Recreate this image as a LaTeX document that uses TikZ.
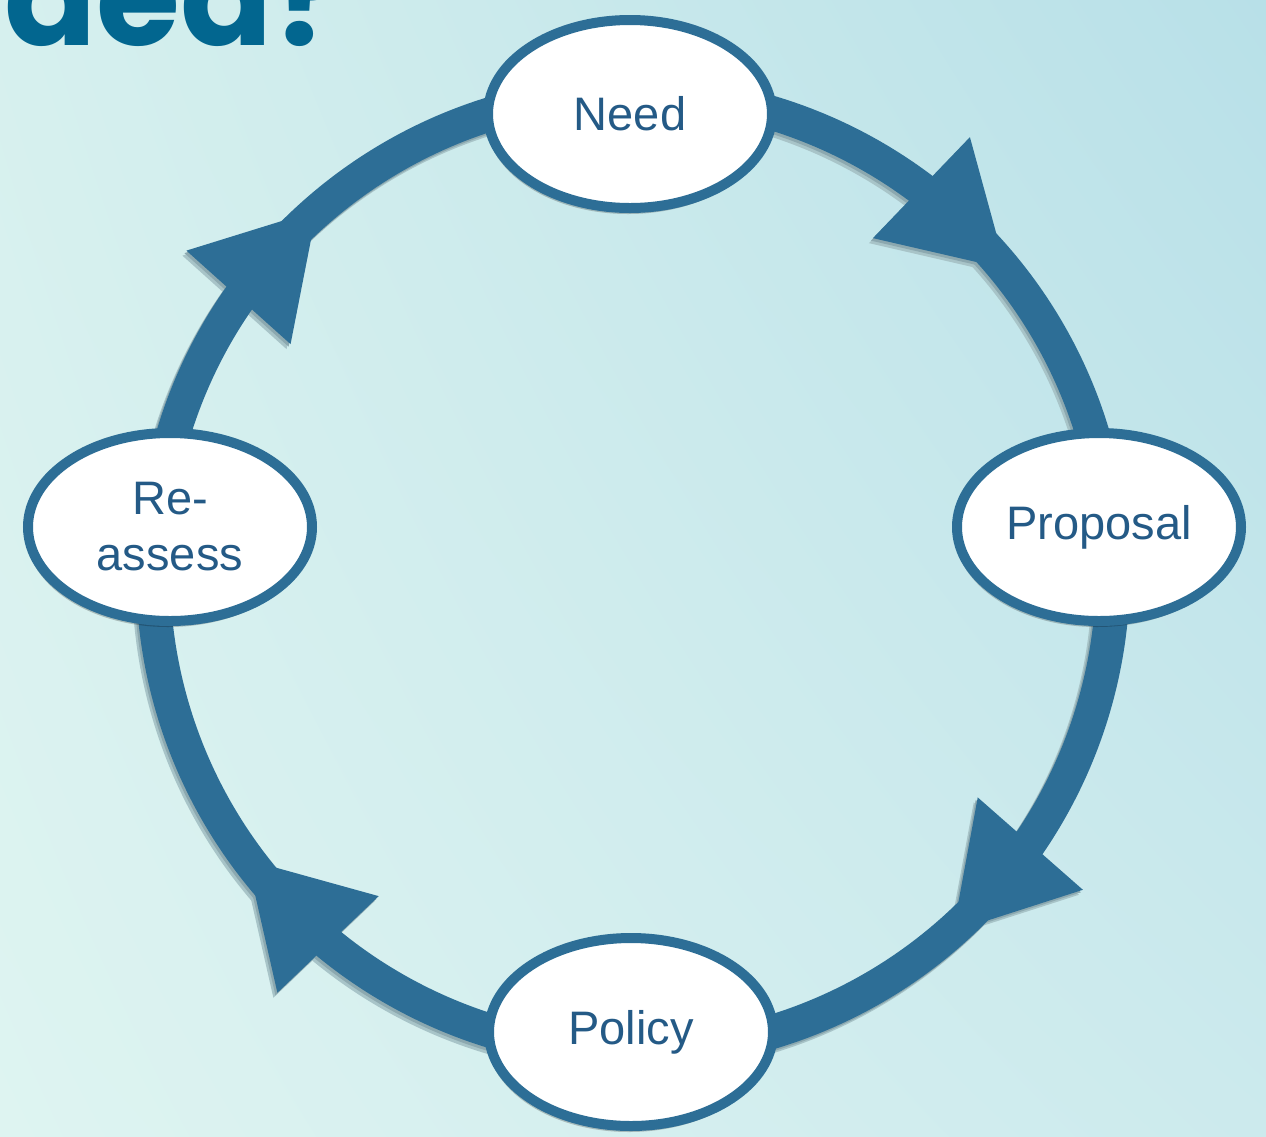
\documentclass[tikz,border=0pt]{standalone}
\usepackage{fontspec}
\setmainfont{Liberation Sans}
\newfontfamily\titlefont{Poppins}
\usetikzlibrary{shapes.geometric,shadows,shadings,decorations.markings}
\definecolor{ringc}{RGB}{45,110,150}
\definecolor{textc}{RGB}{36,90,134}
\definecolor{titlec}{RGB}{2,102,143}
\definecolor{bgul}{RGB}{214,240,238}
\definecolor{bgur}{RGB}{184,224,232}
\definecolor{bgll}{RGB}{222,244,241}
\definecolor{bglr}{RGB}{204,234,237}
\definecolor{shadowc}{RGB}{168,196,200}
\definecolor{shadowd}{RGB}{140,168,175}
\begin{document}
\begin{tikzpicture}[x=0.5pt,y=0.5pt,
  stage/.style={ellipse, draw=ringc, line width=5pt, fill=white,
    minimum width=142pt, minimum height=94pt, inner sep=0pt,
    text=textc, font=\fontsize{23.5}{28}\selectfont, align=center,
    drop shadow={shadow xshift=-1pt, shadow yshift=-3pt, opacity=0.22, fill=black}},
  ring/.style={draw=ringc, line width=17pt},
  arrowat/.style={postaction={decorate}, decoration={markings,
    mark=at position #1 with {\fill[ringc] (58.6,-2.6) -- (-58.6,67.4) -- (-58.6,-72.6) -- cycle;}}}
  ]
\useasboundingbox (0,0) rectangle (1266,-1137);
\clip (0,0) rectangle (1266,-1137);
\shade[upper left=bgul, upper right=bgur, lower left=bgll, lower right=bglr] (0,0) rectangle (1266,-1137);

% cut-off title
\node[anchor=base west, inner sep=0pt, text=titlec,
  font=\titlefont\bfseries\fontsize{68}{68}\selectfont] (title) at (4,-45) {ded?};

% ring points
\coordinate (c) at (633,-572.5);
\coordinate (rN) at (633,-92.5);
\coordinate (rP) at (1110.7,-525.7);
\coordinate (rS) at (633,-1052.5);
\coordinate (rR) at (155.3,-525.7);

% soft shadow of ring and arrows
\begin{scope}[shift={(-4,-5)}]
  \colorlet{ringc}{shadowc}
  \draw[ring, arrowat=0.5195] (633,-92.5) arc[start angle=90, end angle=5.6, radius=480];
  \draw[ring, arrowat=0.4906] (1110.7,-525.7) arc[start angle=5.6, end angle=-90, radius=480];
  \draw[ring, arrowat=0.4848] (633,-1052.5) arc[start angle=-90, end angle=-185.6, radius=480];
  \draw[ring, arrowat=0.430] (155.3,-525.7) arc[start angle=174.4, end angle=90, radius=480];
\end{scope}
\begin{scope}[shift={(-2,-2.5)}]
  \colorlet{ringc}{shadowd}
  \draw[ring, arrowat=0.5195] (633,-92.5) arc[start angle=90, end angle=5.6, radius=480];
  \draw[ring, arrowat=0.4906] (1110.7,-525.7) arc[start angle=5.6, end angle=-90, radius=480];
  \draw[ring, arrowat=0.4848] (633,-1052.5) arc[start angle=-90, end angle=-185.6, radius=480];
  \draw[ring, arrowat=0.430] (155.3,-525.7) arc[start angle=174.4, end angle=90, radius=480];
\end{scope}

% ring connectors with arrowheads
\draw[ring, arrowat=0.5195] (rN) arc[start angle=90, end angle=5.6, radius=480];
\draw[ring, arrowat=0.4906] (rP) arc[start angle=5.6, end angle=-90, radius=480];
\draw[ring, arrowat=0.4848] (rS) arc[start angle=-90, end angle=-185.6, radius=480];
\draw[ring, arrowat=0.430] (rR) arc[start angle=174.4, end angle=90, radius=480];

% stages
\node[stage] (need) at (630,-114) {Need};
\node[stage] (proposal) at (1099,-527) {Proposal};
\node[stage] (policy) at (631,-1032) {Policy};
\node[stage] (reassess) at (170,-527) {Re-\\assess};
\end{tikzpicture}
\end{document}
